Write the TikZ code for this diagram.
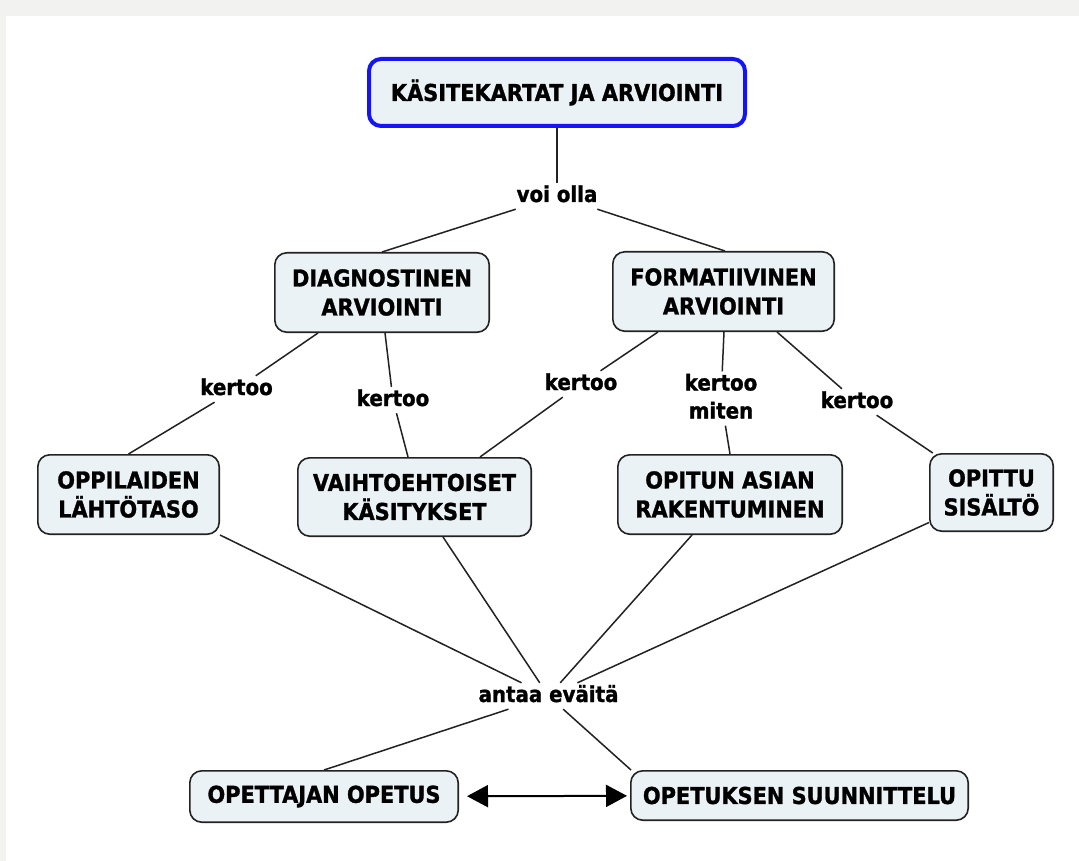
\documentclass[tikz,border=0pt]{standalone}
\usepackage{fontspec}
\newfontfamily\cf{DejaVu Sans}[FakeStretch=0.9, BoldFeatures={FakeBold=1.3}]
\usetikzlibrary{arrows.meta}
\definecolor{bggray}{HTML}{F2F2F0}
\definecolor{nodefill}{HTML}{EBF2F5}
\definecolor{nodeline}{HTML}{222222}
\definecolor{topblue}{HTML}{1414F5}
\tikzset{
  cnode/.style={draw=nodeline, line width=1.6pt, fill=nodefill, rounded corners=12pt,
    align=center, inner sep=0pt, text=black,
    font=\cf\bfseries\fontsize{23.2}{29}\selectfont},
  topnode/.style={cnode, draw=topblue, line width=4pt},
  lbl/.style={inner sep=3pt, align=center, text height=16pt, text depth=4pt,
    font=\cf\bfseries\fontsize{22}{28}\selectfont},
  conn/.style={draw=nodeline, line width=1.5pt},
}
\begin{document}
\begin{tikzpicture}[x=1pt,y=-1pt]
\useasboundingbox (0,0) rectangle (1079,861);
\fill[bggray] (0,0) rectangle (1079,861);
\fill[white] (6,16) rectangle (1079,861);

% concept nodes
\node[topnode, minimum width=376pt, minimum height=67pt] (top) at (557,92.5) {KÄSITEKARTAT JA ARVIOINTI};
\node[cnode, minimum width=214.4pt, minimum height=79.4pt] (diag) at (382,292.5) {DIAGNOSTINEN\\ARVIOINTI};
\node[cnode, minimum width=221.4pt, minimum height=79.4pt] (form) at (723.5,291.5) {FORMATIIVINEN\\ARVIOINTI};
\node[cnode, minimum width=181.4pt, minimum height=79.4pt] (opp) at (128.5,494.5) {OPPILAIDEN\\LÄHTÖTASO};
\node[cnode, minimum width=233.4pt, minimum height=78.4pt] (vaih) at (414.5,497) {VAIHTOEHTOISET\\KÄSITYKSET};
\node[cnode, minimum width=224.4pt, minimum height=79.4pt] (opit) at (730,494.5) {OPITUN ASIAN\\RAKENTUMINEN};
\node[cnode, minimum width=123.4pt, minimum height=77.4pt] (sis) at (991.5,492.5) {OPITTU\\SISÄLTÖ};
\node[cnode, minimum width=268.4pt, minimum height=51.4pt] (opet) at (324,796.5) {OPETTAJAN OPETUS};
\node[cnode, minimum width=337.4pt, minimum height=49.4pt] (suun) at (799.5,795.5) {OPETUKSEN SUUNNITTELU};

% linking labels
\node[lbl] (voi) at (557,196) {voi olla};
\node[lbl] (k1) at (236.5,389) {kertoo};
\node[lbl] (k2) at (393,400) {kertoo};
\node[lbl] (k3) at (581,384) {kertoo};
\node[lbl, text height=44pt] (km) at (721,398.5) {kertoo\\miten};
\node[lbl] (k5) at (857,402) {kertoo};
\node[lbl] (ant) at (548.5,696) {antaa eväitä};

% connectors
\draw[conn] (top.south) -- (voi);
\draw[conn] (voi) -- (diag.north);
\draw[conn] (voi) -- ([xshift=1.5pt]form.north);

\draw[conn] ([xshift=-64pt]diag.south) -- (k1);
\draw[conn] (k1) -- (opp.north);
\draw[conn] ([xshift=3pt]diag.south) -- (k2);
\draw[conn] (k2) -- ([xshift=-6.5pt]vaih.north);

\draw[conn] ([xshift=-65.5pt]form.south) -- (k3);
\draw[conn] (k3) -- ([xshift=65.5pt]vaih.north);
\draw[conn] ([xshift=0.5pt]form.south) -- (km);
\draw[conn] (km) -- (opit.north);
\draw[conn] ([xshift=53.5pt]form.south) -- (k5);
\draw[conn] (k5) -- (sis);

\draw[conn] (opp.south east) -- (ant);
\draw[conn] ([xshift=28.5pt]vaih.south) -- (ant);
\draw[conn] ([xshift=-38pt]opit.south) -- (ant);
\draw[conn] ([yshift=-30pt]sis.west) -- (ant);

\draw[conn] (ant) -- (opet.north);
\draw[conn] (ant) -- ([xshift=1pt]suun.north west);

\draw[conn, draw=black, line width=2pt, {Triangle[length=21pt,width=22pt]}-{Triangle[length=21pt,width=22pt]},
  shorten <=8pt, shorten >=3pt] (opet) -- (suun);
\end{tikzpicture}
\end{document}
